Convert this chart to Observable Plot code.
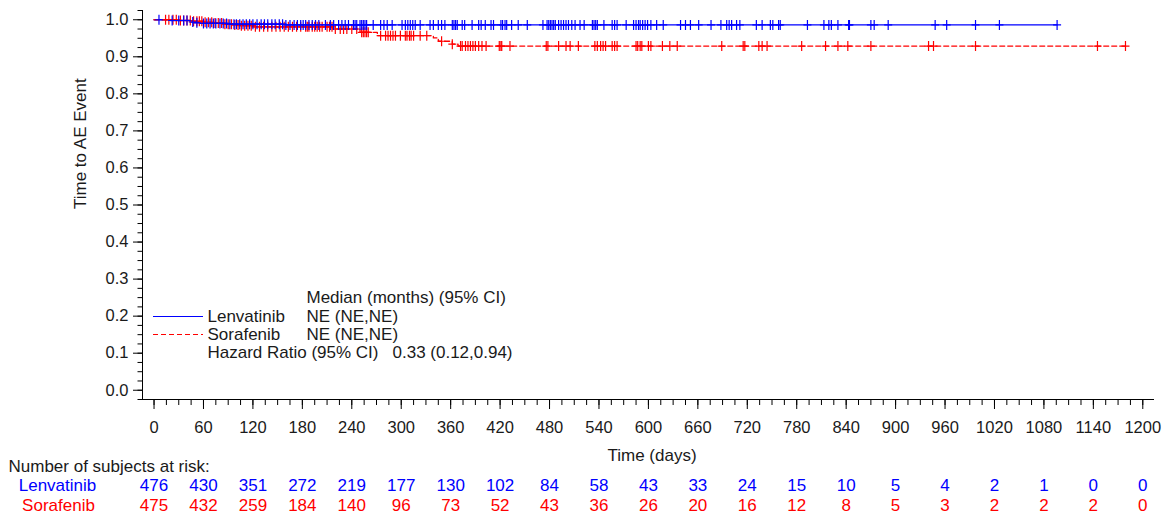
<!DOCTYPE html>
<html>
<head>
<meta charset="utf-8">
<script src="https://cdn.jsdelivr.net/npm/d3@7"></script>
<script src="https://cdn.jsdelivr.net/npm/@observablehq/plot@0.6"></script>
<style>
  html, body { margin: 0; padding: 0; background: #fff; }
  #chart { width: 1166px; height: 517px; }
</style>
</head>
<body>
<div id="chart"></div>
<script>
// ---- Data ----
const seriesNames = ["Lenvatinib", "Sorafenib"];

// Kaplan-Meier event steps (time in days, survival probability)
const lenEventTimes = [0, 20, 44, 48, 56, 90, 160];
const lenEventSurv  = [1.0, 0.998, 0.994, 0.992, 0.990, 0.988, 0.986];
const sorEventTimes = [0, 30, 45, 60, 72, 85, 95, 105, 120, 217, 250, 271, 339, 345, 362, 369];
const sorEventSurv  = [1.0, 0.998, 0.996, 0.993, 0.991, 0.988, 0.986, 0.984, 0.981, 0.975, 0.966, 0.957, 0.951, 0.942, 0.934, 0.929];

// Censoring times (days)
const lenCensorTimes = [6, 22, 30, 36, 40, 47, 52, 60, 64, 68, 72, 75, 80, 84, 88, 92, 97, 100, 104, 108, 112, 116, 120, 125, 130, 134, 138, 143, 147, 152, 156, 160, 165, 170, 174, 178, 181,
  184, 188, 192, 196, 200, 208, 214, 218, 224, 228, 232, 236, 242, 244, 246, 250, 252, 254, 256, 258, 266, 275, 279, 283, 289, 301, 305, 308, 311, 314, 317, 323, 335, 339, 345, 349, 353, 362, 364, 366, 368, 374, 377,
  386, 394, 397, 402, 409, 412, 421, 423, 426, 428, 434, 442, 453, 472, 477, 479, 481, 483, 485, 487, 491, 494, 497, 500, 503, 507, 511, 517, 522, 532, 534, 536, 538, 546, 556, 559, 562, 573, 582, 585, 588, 590, 593, 596, 599, 603, 610, 618, 639, 645, 651, 661, 676, 688, 695, 698, 701, 707, 711, 731, 738, 748, 751, 758, 760,
  793, 813, 819, 822, 830, 843, 844, 870, 874, 891, 948, 962, 997, 1026, 1096];
const sorCensorTimes = [14, 18, 23, 27, 32, 36, 40, 44, 48, 52, 55, 58, 62, 66, 70, 74, 78, 82, 86, 90, 94, 98, 102, 106, 110, 114, 118, 123, 128, 133, 138, 143, 148, 153, 158, 163, 168, 173, 178,
  184, 186, 188, 192, 195, 198, 201, 204, 210, 213, 216, 220, 226, 230, 234, 240, 246, 252, 254, 256, 258, 260, 275, 281, 284, 287, 290, 293, 299, 305, 307, 310, 312, 315, 323, 331, 349, 362, 372, 374, 378, 381,
  384, 387, 390, 394, 398, 403, 419, 421, 422, 432, 476, 478, 491, 500, 505, 515, 535, 538, 542, 545, 548, 556, 559, 562, 585, 587, 590, 592, 600, 603, 617, 626, 635, 689, 715, 717, 734, 738, 744, 786,
  815, 830, 842, 870, 940, 946, 997, 1145, 1179];

// Number at risk
const riskTimes = d3.range(0, 1201, 60);
const lenRisk = [476, 430, 351, 272, 219, 177, 130, 102, 84, 58, 43, 33, 24, 15, 10, 5, 4, 2, 1, 0, 0];
const sorRisk = [475, 432, 259, 184, 140, 96, 73, 52, 43, 36, 26, 20, 16, 12, 8, 5, 3, 2, 2, 2, 0];

// Legend / annotation text
const legendHeader = "Median (months) (95% CI)";
const medianText = ["NE (NE,NE)", "NE (NE,NE)"];
const hrLabel = "Hazard Ratio (95% CI)";
const hrValue = "0.33 (0.12,0.94)";

// ---- Build tables ----
function stepLine(times, surv, censors) {
  const pts = times.map((t, i) => ({t, s: surv[i]}));
  const last = Math.max(d3.max(censors), d3.max(times));
  pts.push({t: last, s: surv[surv.length - 1]});
  return pts;
}
function censorPts(times, surv, censors) {
  const bis = d3.bisector(d => d).right;
  return censors.map(c => ({t: c, s: surv[Math.max(0, bis(times, c) - 1)]}));
}
const lenLine = stepLine(lenEventTimes, lenEventSurv, lenCensorTimes);
const sorLine = stepLine(sorEventTimes, sorEventSurv, sorCensorTimes);
const lenCens = censorPts(lenEventTimes, lenEventSurv, lenCensorTimes);
const sorCens = censorPts(sorEventTimes, sorEventSurv, sorCensorTimes);

const BLUE = "#0000ff", RED = "#ff0000", INK = "#1a1a1a";
const FS = 17, TFS = 16.5;

// censor "+" symbol
const censorSymbol = {
  draw(ctx) {
    ctx.moveTo(0, -5); ctx.lineTo(0, 5);
    ctx.moveTo(-4, 0); ctx.lineTo(4, 0);
  }
};

const marginLeft = 142, marginTop = 10;

const plot = Plot.plot({
  width: 1166,
  height: 517,
  marginTop: marginTop,
  marginBottom: 118,
  marginLeft: marginLeft,
  marginRight: 13,
  style: {fontFamily: "'Liberation Sans', Arial, sans-serif", fontSize: FS + "px", color: INK, background: "#fff"},
  x: {domain: [-14, 1213], label: null},
  y: {domain: [-0.025, 1.025], label: null},
  marks: [
    Plot.frame({anchor: "left", stroke: "#000"}),
    Plot.frame({anchor: "bottom", stroke: "#000"}),
    // Y axis
    Plot.axisY({ticks: d3.range(-0.025, 1.03, 0.025), tickSize: 4.5, text: null, label: null, stroke: "#000"}),
    Plot.axisY({ticks: d3.range(0, 1.01, 0.1), tickSize: 9, tickPadding: 5, tickFormat: d3.format(".1f"), label: null, fontSize: TFS, stroke: "#000", fill: INK}),
    // X axis
    Plot.axisX({ticks: d3.range(0, 1201, 15), tickSize: 6, text: null, label: null, stroke: "#000"}),
    Plot.axisX({ticks: riskTimes, tickSize: 10, tickPadding: 12, tickFormat: d => String(d), label: null, fontSize: TFS, stroke: "#000", fill: INK}),
    // Curves
    Plot.line(lenLine, {x: "t", y: "s", curve: "step-after", stroke: BLUE, strokeWidth: 1.3}),
    Plot.line(sorLine, {x: "t", y: "s", curve: "step-after", stroke: RED, strokeWidth: 1.3, strokeDasharray: "5,3"}),
    Plot.dot(sorCens, {x: "t", y: "s", symbol: censorSymbol, r: 4, stroke: RED, strokeWidth: 1.2, fill: "none"}),
    Plot.dot(lenCens, {x: "t", y: "s", symbol: censorSymbol, r: 4, stroke: BLUE, strokeWidth: 1.2, fill: "none"}),
    // Axis titles
    Plot.text(["Time to AE Event"], {frameAnchor: "left", rotate: -90, dx: -62, dy: 4, fontSize: FS, fill: INK}),
    Plot.text(["Time (days)"], {frameAnchor: "bottom", lineAnchor: "middle", dx: 4, dy: 56, fontSize: FS, fill: INK}),
    // Legend texts
    Plot.text([legendHeader], {frameAnchor: "top-left", textAnchor: "start", lineAnchor: "middle", dx: 306 - marginLeft, dy: 297 - marginTop, fontSize: FS, fill: INK}),
    Plot.text([seriesNames[0]], {frameAnchor: "top-left", textAnchor: "start", lineAnchor: "middle", dx: 207 - marginLeft, dy: 316 - marginTop, fontSize: FS, fill: INK}),
    Plot.text([medianText[0]], {frameAnchor: "top-left", textAnchor: "start", lineAnchor: "middle", dx: 306 - marginLeft, dy: 316 - marginTop, fontSize: FS, fill: INK}),
    Plot.text([seriesNames[1]], {frameAnchor: "top-left", textAnchor: "start", lineAnchor: "middle", dx: 207 - marginLeft, dy: 334 - marginTop, fontSize: FS, fill: INK}),
    Plot.text([medianText[1]], {frameAnchor: "top-left", textAnchor: "start", lineAnchor: "middle", dx: 306 - marginLeft, dy: 334 - marginTop, fontSize: FS, fill: INK}),
    Plot.text([hrLabel], {frameAnchor: "top-left", textAnchor: "start", lineAnchor: "middle", dx: 207 - marginLeft, dy: 352 - marginTop, fontSize: FS, fill: INK}),
    Plot.text([hrValue], {frameAnchor: "top-left", textAnchor: "start", lineAnchor: "middle", dx: 392 - marginLeft, dy: 352 - marginTop, fontSize: FS, fill: INK}),
    // Number at risk table
    Plot.text(["Number of subjects at risk:"], {frameAnchor: "bottom-left", textAnchor: "start", lineAnchor: "middle", dx: 8 - marginLeft, dy: 67, fontSize: FS, fill: INK}),
    Plot.text([seriesNames[0]], {frameAnchor: "bottom-left", textAnchor: "middle", lineAnchor: "middle", dx: 57 - marginLeft, dy: 86, fontSize: FS, fill: BLUE}),
    Plot.text([seriesNames[1]], {frameAnchor: "bottom-left", textAnchor: "middle", lineAnchor: "middle", dx: 58 - marginLeft, dy: 106, fontSize: FS, fill: RED}),
    Plot.text(lenRisk, {x: (d, i) => riskTimes[i], text: d => String(d), frameAnchor: "bottom", lineAnchor: "middle", dy: 86, fontSize: FS, fill: BLUE}),
    Plot.text(sorRisk, {x: (d, i) => riskTimes[i], text: d => String(d), frameAnchor: "bottom", lineAnchor: "middle", dy: 106, fontSize: FS, fill: RED})
  ]
});

// legend line samples
const sel = d3.select(plot);
sel.append("line").attr("x1", 153).attr("x2", 203).attr("y1", 316.5).attr("y2", 316.5)
  .attr("stroke", BLUE).attr("stroke-width", 1.2);
sel.append("line").attr("x1", 153).attr("x2", 203).attr("y1", 334.5).attr("y2", 334.5)
  .attr("stroke", RED).attr("stroke-width", 1.2).attr("stroke-dasharray", "5,3");

document.getElementById("chart").appendChild(plot);
</script>
</body>
</html>
